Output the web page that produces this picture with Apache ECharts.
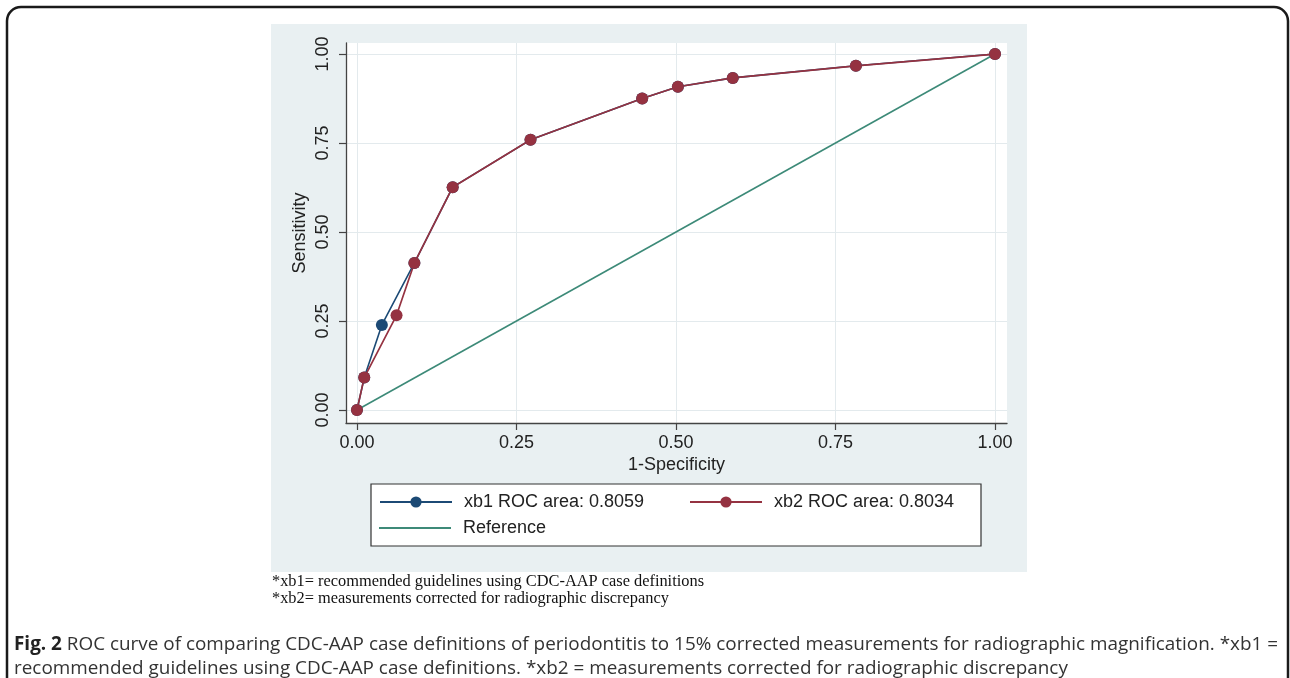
<!DOCTYPE html>
<html>
<head>
<meta charset="utf-8">
<title>ROC curve xb1 / xb2</title>
<script src="https://cdn.jsdelivr.net/npm/echarts@6/dist/echarts.min.js"></script>
<style>
  html, body { margin: 0; padding: 0; background: #fff; }
  #chart { width: 1290px; height: 678px; }
</style>
</head>
<body>
<div id="chart"></div>
<script>
// ROC points (1-specificity, sensitivity)
const xb1Fpr = [0, 0.0114, 0.039, 0.090, 0.150, 0.272, 0.447, 0.503, 0.589, 0.782, 1];
const xb1Tpr = [0, 0.091, 0.239, 0.413, 0.626, 0.759, 0.875, 0.908, 0.933, 0.967, 1];
const xb2Fpr = [0, 0.0114, 0.062, 0.090, 0.150, 0.272, 0.447, 0.503, 0.589, 0.782, 1];
const xb2Tpr = [0, 0.091, 0.266, 0.413, 0.626, 0.759, 0.875, 0.908, 0.933, 0.967, 1];
const refFpr = [0, 1];
const refTpr = [0, 1];

const seriesNames = ['xb1 ROC area: 0.8059', 'xb2 ROC area: 0.8034', 'Reference'];
const tickValues = [0, 0.25, 0.5, 0.75, 1];

const footnotes = [
  '*xb1= recommended guidelines using CDC-AAP case definitions',
  '*xb2= measurements corrected for radiographic discrepancy'
];
const captionBold = 'Fig. 2';
const captionLines = [
  ' ROC curve of comparing CDC-AAP case definitions of periodontitis to 15% corrected measurements for radiographic magnification. *xb1 =',
  'recommended guidelines using CDC-AAP case definitions. *xb2 = measurements corrected for radiographic discrepancy'
];

const pairs = (xs, ys) => xs.map((x, i) => [x, ys[i]]);

// text width helper, used to squeeze the condensed caption fonts
const ctx = document.createElement('canvas').getContext('2d');
const measure = (text, font) => { ctx.font = font; return ctx.measureText(text).width; };

const capFont = '19px "Open Sans"';
const capBoldFont = 'bold 19px "Open Sans"';
const cap1W = measure(captionBold, capBoldFont) + measure(captionLines[0], capFont);
const capScale = 1264 / cap1W;

const noteFont = '16px "Liberation Serif"';
const noteScale = 432 / measure(footnotes[0], noteFont);

const axisFont = 'Liberation Sans';
const NAVY = '#1c4a75';
const MAROON = '#953241';
const TEAL = '#3d8a78';

const chart = echarts.init(document.getElementById('chart'));

const axisCommon = {
  type: 'value',
  axisLine: { show: true, onZero: false, lineStyle: { color: '#444', width: 1.3 } },
  axisTick: { show: true, length: 7, customValues: tickValues, lineStyle: { color: '#444', width: 1.2 } },
  splitLine: { show: true, lineStyle: { color: '#e3eaed', width: 1 } },
  nameMoveOverlap: false,
  nameTextStyle: { fontFamily: axisFont, fontSize: 18, color: '#222' }
};

const legendCommon = {
  orient: 'horizontal',
  itemWidth: 72,
  itemHeight: 14,
  padding: 0,
  textStyle: { fontFamily: axisFont, fontSize: 18, color: '#222', padding: [0, 0, 0, 7] }
};

const option = {
  backgroundColor: '#fff',
  animation: false,
  grid: {
    left: 346, top: 43, width: 661, height: 380,
    show: true, backgroundColor: '#fff', borderWidth: 0
  },
  xAxis: Object.assign({}, axisCommon, {
    min: -0.0172, max: 1.0188,
    name: '1-Specificity', nameLocation: 'middle', nameGap: 33,
    axisLabel: {
      customValues: tickValues, margin: 11,
      formatter: v => v.toFixed(2),
      fontFamily: axisFont, fontSize: 18, color: '#222'
    }
  }),
  yAxis: Object.assign({}, axisCommon, {
    min: -0.0365, max: 1.031,
    name: 'Sensitivity', nameLocation: 'middle', nameGap: 37,
    axisLabel: {
      customValues: tickValues, margin: 14, rotate: 90,
      formatter: v => v.toFixed(2),
      fontFamily: axisFont, fontSize: 18, color: '#222'
    }
  }),
  legend: [
    Object.assign({}, legendCommon, { left: 379, top: 493, data: [seriesNames[0]] }),
    Object.assign({}, legendCommon, { left: 689, top: 493, data: [seriesNames[1]] }),
    Object.assign({}, legendCommon, {
      left: 379, top: 519, itemHeight: 2,
      data: [{ name: seriesNames[2], icon: 'rect' }]
    })
  ],
  series: [
    {
      name: seriesNames[0], type: 'line', data: pairs(xb1Fpr, xb1Tpr),
      symbol: 'circle', symbolSize: 12,
      lineStyle: { color: NAVY, width: 1.6 },
      itemStyle: { color: NAVY }
    },
    {
      name: seriesNames[1], type: 'line', data: pairs(xb2Fpr, xb2Tpr),
      symbol: 'circle', symbolSize: 12,
      lineStyle: { color: MAROON, width: 1.7 },
      itemStyle: { color: MAROON }
    },
    {
      name: seriesNames[2], type: 'line', data: pairs(refFpr, refTpr),
      symbol: 'none', showSymbol: false,
      lineStyle: { color: TEAL, width: 1.6 },
      itemStyle: { color: TEAL }
    }
  ],
  graphic: [
    // light panel behind the Stata graph
    { type: 'rect', z: -20, shape: { x: 271, y: 24, width: 756, height: 548 }, style: { fill: '#e9f0f2' } },
    // legend frame
    { type: 'rect', z: -10, shape: { x: 371, y: 484, width: 610, height: 62 }, style: { fill: '#fff', stroke: '#333', lineWidth: 1.2 } },
    // outer figure frame
    { type: 'rect', z: -30, shape: { x: 7, y: 7, width: 1281, height: 720, r: 14 }, style: { fill: 'none', stroke: '#1a1a1a', lineWidth: 2.5 } },
    // footnotes
    { type: 'text', x: 272, y: 582, scaleX: noteScale, style: { text: footnotes[0], font: noteFont, fill: '#111', verticalAlign: 'middle' } },
    { type: 'text', x: 272, y: 599, scaleX: noteScale, style: { text: footnotes[1], font: noteFont, fill: '#111', verticalAlign: 'middle' } },
    // caption
    {
      type: 'text', x: 14, y: 645, scaleX: capScale,
      style: {
        text: '{b|' + captionBold + '}{r|' + captionLines[0] + '}',
        verticalAlign: 'middle',
        rich: {
          b: { font: capBoldFont, fill: '#222' },
          r: { font: capFont, fill: '#333' }
        }
      }
    },
    { type: 'text', x: 14, y: 669, scaleX: capScale, style: { text: captionLines[1], font: capFont, fill: '#333', verticalAlign: 'middle' } }
  ]
};

chart.setOption(option);
</script>
</body>
</html>
